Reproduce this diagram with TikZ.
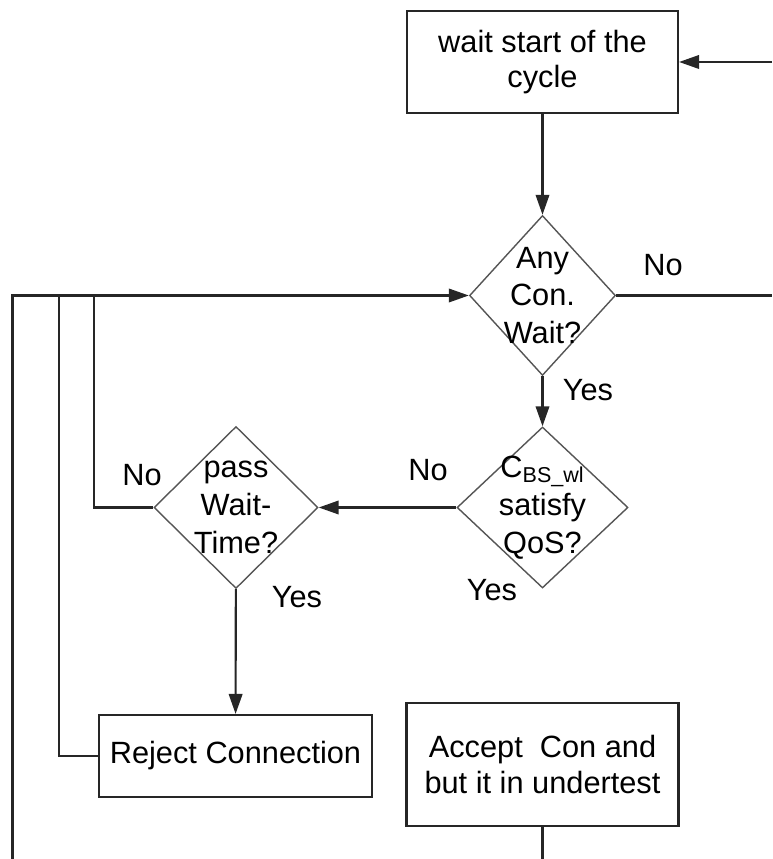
\documentclass[tikz,border=0pt]{standalone}
\usepackage{fontspec}
\setmainfont{Liberation Sans}
\usetikzlibrary{positioning,arrows.meta,shapes.geometric}
\definecolor{flowgray}{HTML}{262626}
\definecolor{edgegray}{HTML}{555555}
\tikzset{
  flowbox/.style={draw=flowgray, line width=1.2pt, align=center, inner sep=2pt},
  decision/.style={diamond, draw=edgegray, line width=0.8pt, inner sep=0pt},
  flowtext/.style={align=center, inner sep=0pt, font=\fontsize{17.5}{21.5}\selectfont},
  flowline/.style={draw=flowgray, line width=1.2pt},
  flowarrow/.style={flowline, -{Triangle[length=4mm,width=2.7mm]}},
}

\begin{document}
\begin{tikzpicture}[font=\fontsize{17.5}{20}\selectfont]
\useasboundingbox (0,0) rectangle (15.44,17.18);
% boxes and decisions
\node[flowbox, minimum width=5.42cm, minimum height=2.04cm] (wait) at (10.85,15.94) {wait start of the\\cycle};
\node[decision, minimum width=2.92cm, minimum height=3.2cm] (anycon) at (10.85,11.27) {};
\node[flowtext] (anycontxt) at (anycon) {Any\\Con.\\Wait?};
\node[decision, minimum width=3.42cm, minimum height=3.22cm] (qos) at (10.85,7.03) {};
\node[flowtext] (qostxt) at (qos) {C\textsubscript{BS\_wl}\\satisfy\\QoS?};
\node[decision, minimum width=3.28cm, minimum height=3.24cm] (pass) at (4.72,7.03) {};
\node[flowtext] (passtxt) at (pass) {pass\\Wait-\\Time?};
\node[flowbox, minimum width=5.46cm, minimum height=1.64cm] (reject) at (4.71,2.06) {Reject Connection};
\node[flowbox, minimum width=5.44cm, minimum height=2.46cm] (accept) at (10.85,1.89) {Accept\ \ Con and\\but it in undertest};
% free ends at the picture's border
\coordinate (cycin) at (15.44,15.94);
\coordinate (noout) at (15.44,11.27);
\coordinate (busa) at (0.25,11.27);
\coordinate (busb) at (1.18,11.27);
\coordinate (busc) at (1.88,11.27);
\coordinate (busend) at (0.25,0);
\coordinate (acceptout) at (10.85,0);
% connectors
\draw[flowarrow] (cycin) -- (wait);
\draw[flowarrow] (wait) -- (anycon);
\draw[flowline] (anycon) -- (noout);
\draw[flowarrow] (anycon) -- (qos);
\draw[flowarrow] (qos) -- (pass);
\draw[flowarrow] (pass) -- (reject);
\draw[flowline] (pass.west) -| (busc);
\draw[flowline] (reject.west) -| (busb);
\draw[flowarrow] (busend) -- (busa) -- (anycon.west);
\draw[flowline] (accept) -- (acceptout);
% branch labels
\node (noany) at (13.26,11.88) {No};
\node (yesany) at (11.76,9.38) {Yes};
\node (noqos) at (8.56,7.78) {No};
\node (yesqos) at (9.84,5.38) {Yes};
\node (nopass) at (2.84,7.68) {No};
\node (yespass) at (5.94,5.24) {Yes};
\end{tikzpicture}
\end{document}
